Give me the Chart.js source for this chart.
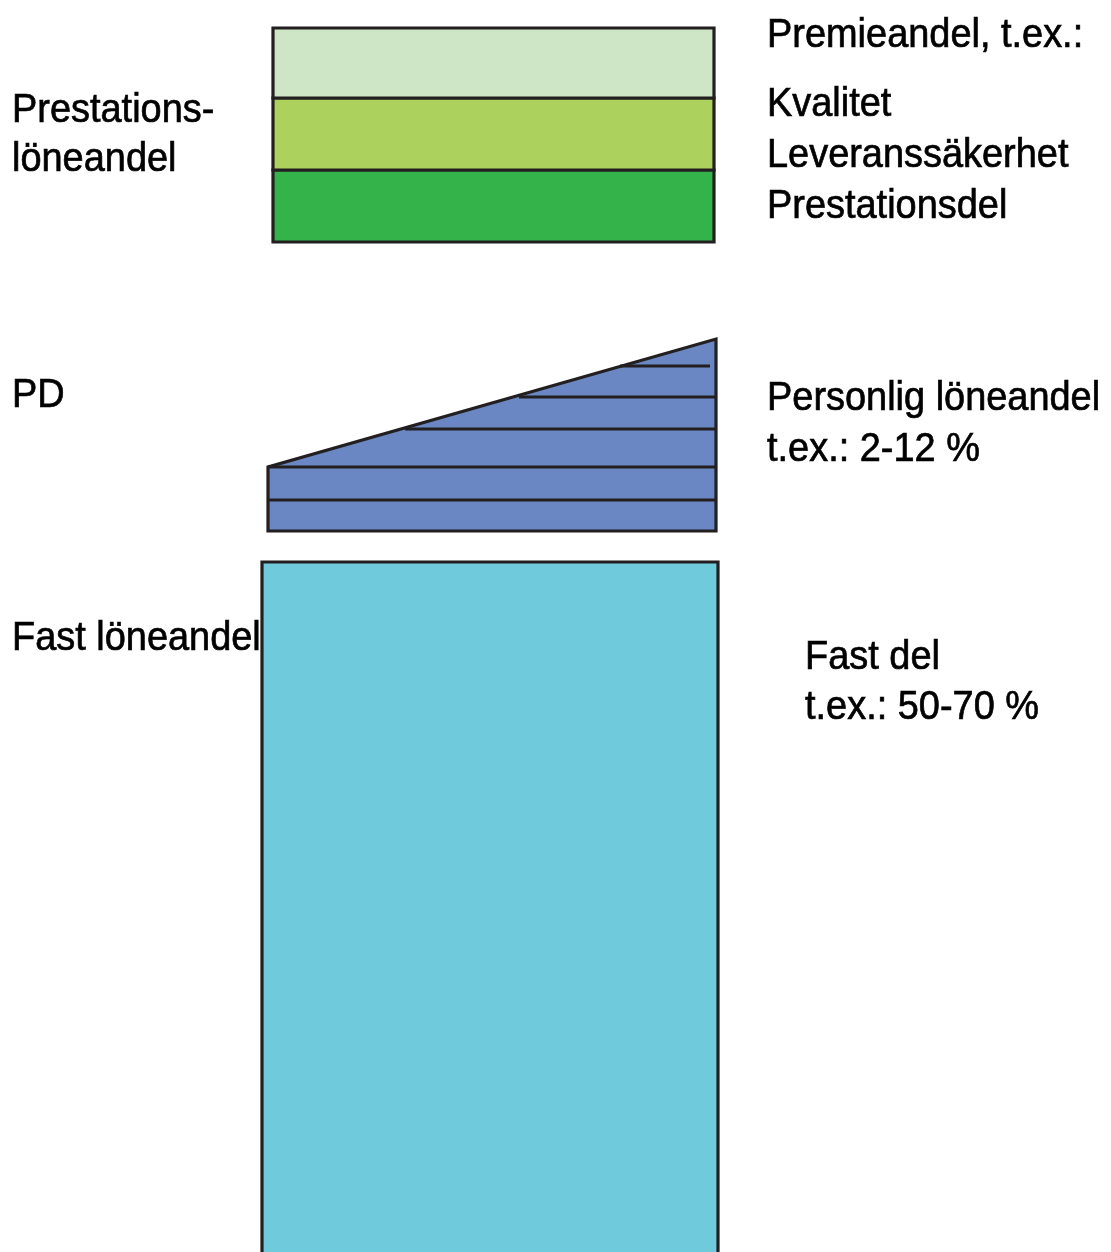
<!DOCTYPE html>
<html>
<head>
<meta charset="utf-8">
<script src="https://cdn.jsdelivr.net/npm/chart.js@4.4.1/dist/chart.umd.min.js"></script>
<style>
  html, body { margin: 0; padding: 0; background: #fff; overflow: hidden; }
</style>
</head>
<body>
<canvas id="lon" width="1111" height="1252"></canvas>
<script>
// Lönemodell: fast del, personlig del (PD) och premiedel.
// Alla värden i diagrammets egna enheter (x åt höger, y nedåt).

// Premieandel – tre band ovanpå varandra
const premieNamn = ['Kvalitet', 'Leveranssäkerhet', 'Prestationsdel'];
const premieFarg = ['#cfe6c6', '#acd15c', '#33b34a'];
const premieKanter = [28, 98, 170, 242];
const premieX = [273, 714];

// Personlig löneandel – trapets med trappsteg
const pdX = [268, 716];
const pdOvre = [467, 339];     // vänster, höger överkant
const pdUndre = 531;
const pdSteg = [366, 397, 429, 467, 500];
const pdStegFran = [620, 519, 405, 268, 268];
const pdStegTill = [710, 716, 716, 716, 716];

// Fast löneandel
const fastX = [262, 718];
const fastOvre = 562;
const fastUndre = 1300;

// Texter
const vansterText = ['Prestations-', 'löneandel', 'PD', 'Fast löneandel'];
const hogerText = ['Premieandel, t.ex.:', 'Kvalitet', 'Leveranssäkerhet', 'Prestationsdel',
  'Personlig löneandel', 't.ex.: 2-12 %', 'Fast del', 't.ex.: 50-70 %'];

// placering av texterna (x, baslinje)
const textPlats = {
  vanster: { x: [12, 12, 12, 12], y: [122, 171, 407, 650] },
  hoger: { x: [767, 767, 767, 767, 767, 767, 805, 805], y: [47, 116, 167, 218, 410, 461, 669, 719] },
};

const LINJE = '#231f20';
const SMAL = 0.925;   // smal skrift, som Helvetica Narrow

function rektangel(x0, x1, y0, y1) {
  return [{ x: x0, y: y1 }, { x: x0, y: y0 }, { x: x1, y: y0 }, { x: x1, y: y1 }, { x: x0, y: y1 }];
}

function form(data, farg) {
  return {
    data, showLine: true, fill: 'shape', backgroundColor: farg,
    borderColor: LINJE, borderWidth: 3.2, borderJoinStyle: 'miter', borderCapStyle: 'square',
    pointRadius: 0, tension: 0, clip: false, order: 2,
  };
}

const datasets = [];

premieNamn.forEach((namn, i) => {
  datasets.push({ label: namn, ...form(rektangel(premieX[0], premieX[1], premieKanter[i], premieKanter[i + 1]), premieFarg[i]) });
});

datasets.push({
  label: 'PD',
  ...form([
    { x: pdX[0], y: pdUndre }, { x: pdX[0], y: pdOvre[0] }, { x: pdX[1], y: pdOvre[1] },
    { x: pdX[1], y: pdUndre }, { x: pdX[0], y: pdUndre },
  ], '#6a87c3'),
});

pdSteg.forEach((y, i) => {
  datasets.push({
    label: 'steg ' + (i + 1),
    data: [{ x: pdStegFran[i], y }, { x: pdStegTill[i], y }],
    showLine: true, fill: false, borderColor: LINJE, borderWidth: 3.2, borderCapStyle: 'butt',
    pointRadius: 0, clip: false, order: 0,
  });
});

datasets.push({ label: 'Fast', ...form(rektangel(fastX[0], fastX[1], fastOvre, fastUndre), '#6fcbdc') });

function skriv(ctx, text, px, py) {
  ctx.save();
  ctx.translate(px, py);
  ctx.scale(SMAL, 1);
  ctx.fillText(text, 0, 0);
  ctx.strokeText(text, 0, 0);
  ctx.restore();
}

const textPlugin = {
  id: 'texter',
  afterDraw(chart) {
    const { ctx, scales: { x, y } } = chart;
    ctx.save();
    ctx.fillStyle = '#000';
    ctx.strokeStyle = '#000';
    ctx.lineWidth = 0.7;
    ctx.font = '41px "Liberation Sans", Arial, sans-serif';
    ctx.textBaseline = 'alphabetic';
    ctx.textAlign = 'left';
    vansterText.forEach((t, i) => skriv(ctx, t, x.getPixelForValue(textPlats.vanster.x[i]), y.getPixelForValue(textPlats.vanster.y[i])));
    hogerText.forEach((t, i) => skriv(ctx, t, x.getPixelForValue(textPlats.hoger.x[i]), y.getPixelForValue(textPlats.hoger.y[i])));
    ctx.restore();
  },
};

new Chart(document.getElementById('lon'), {
  type: 'scatter',
  data: { datasets },
  options: {
    responsive: false, animation: false, devicePixelRatio: 1,
    layout: { padding: 0 },
    plugins: { legend: { display: false }, tooltip: { enabled: false } },
    scales: {
      x: { type: 'linear', min: 0, max: 1111, display: false },
      y: { type: 'linear', min: 0, max: 1252, reverse: true, display: false },
    },
  },
  plugins: [textPlugin],
});
</script>
</body>
</html>
